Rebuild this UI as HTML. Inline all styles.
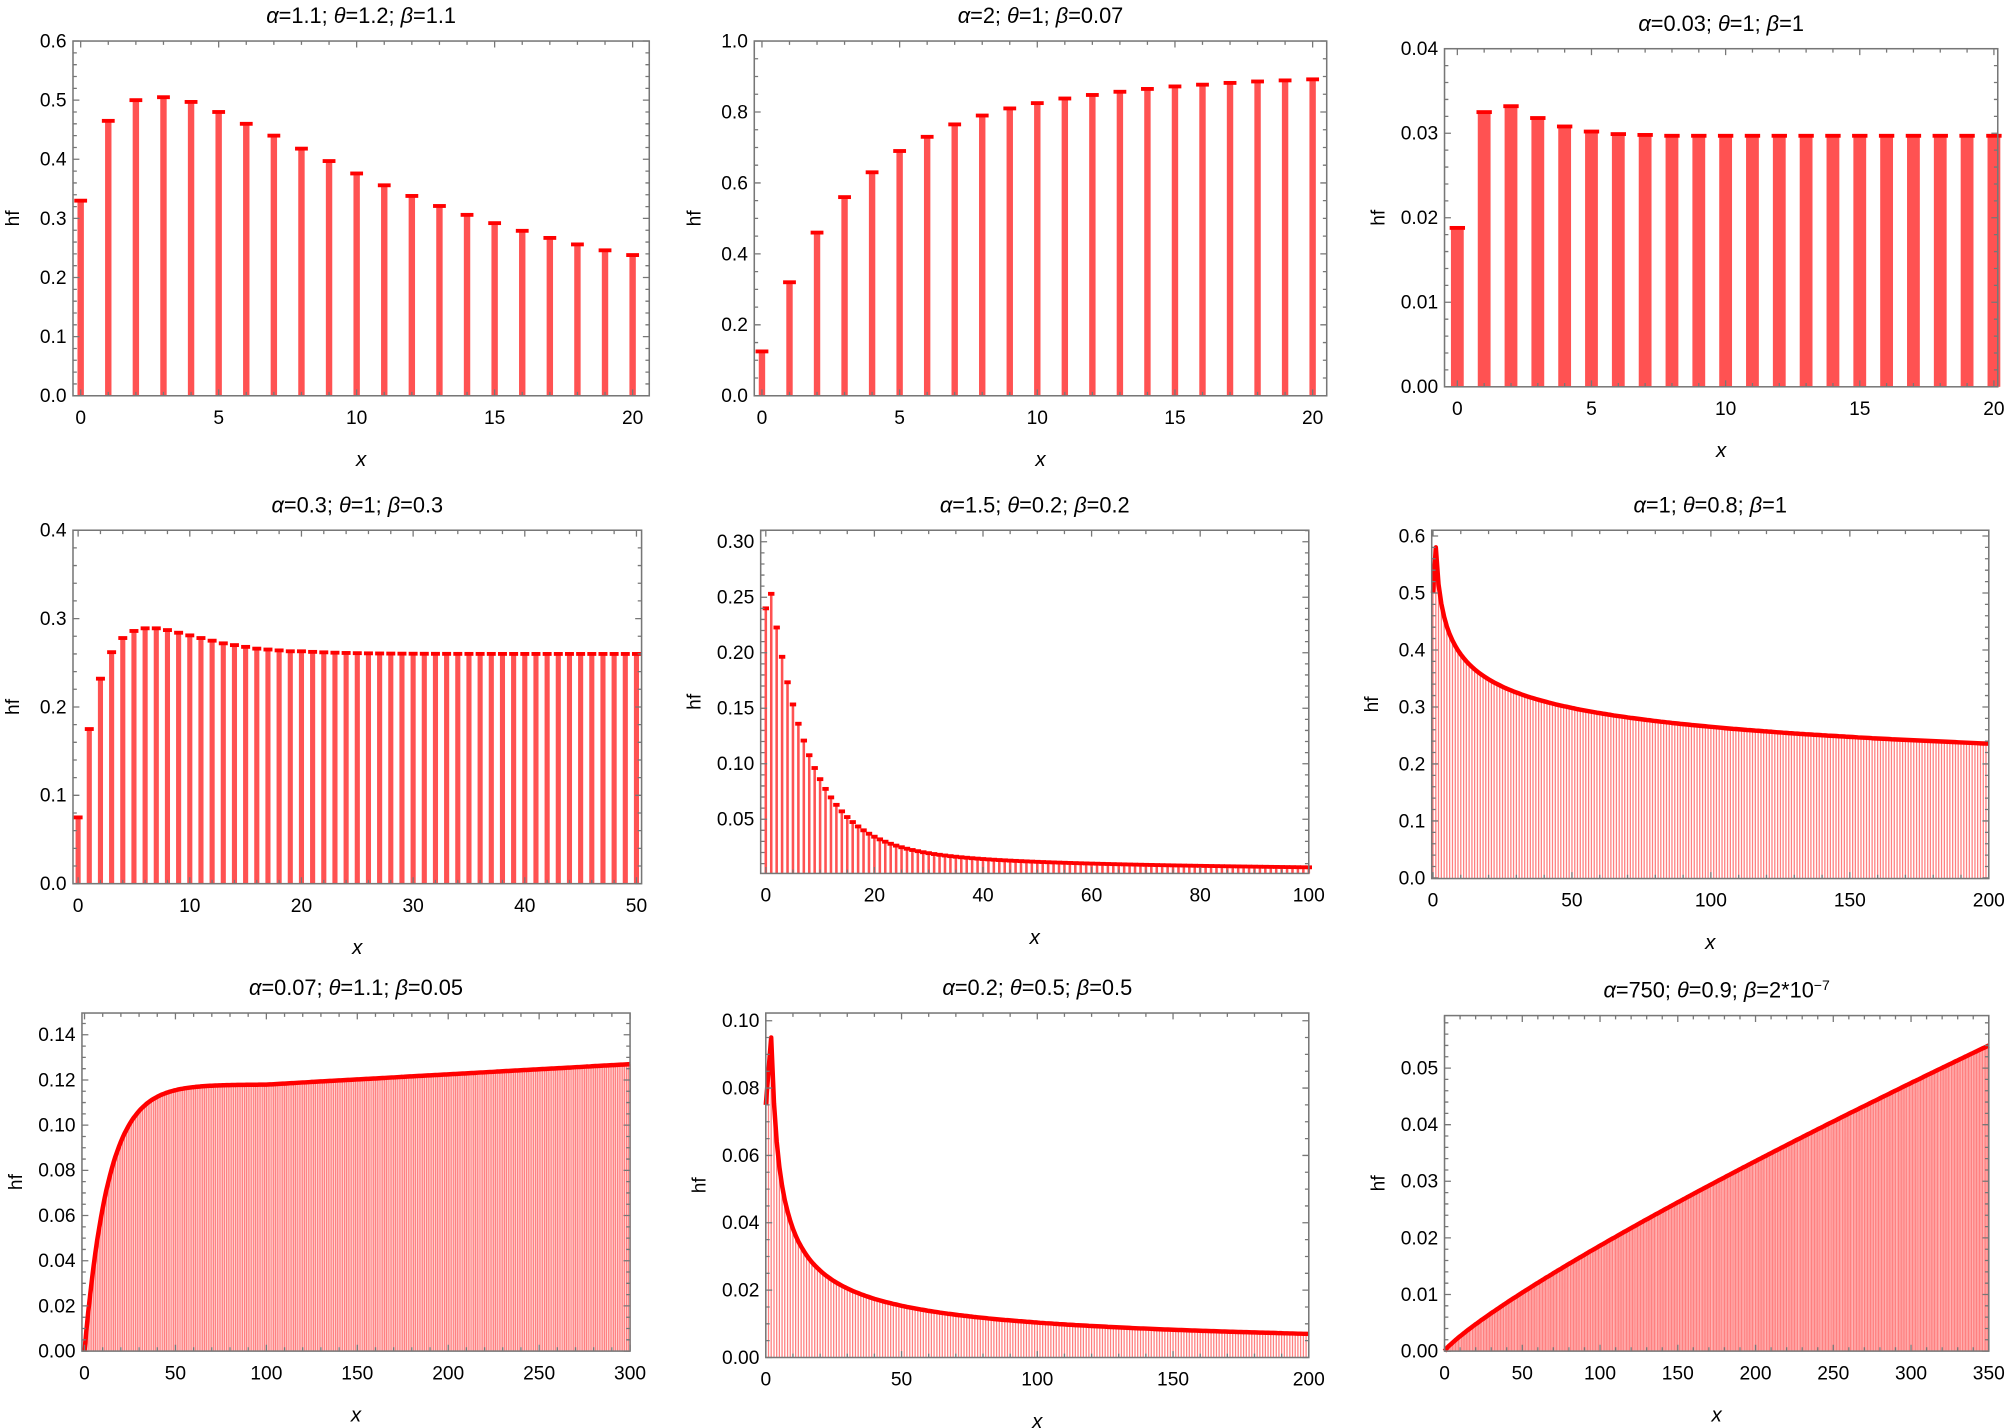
<!DOCTYPE html>
<html><head><meta charset="utf-8"><style>html,body{margin:0;padding:0;background:#fff}svg{display:block}</style></head>
<body>
<svg id="s" width="2008" height="1428" viewBox="0 0 1568 1115" xmlns="http://www.w3.org/2000/svg" font-family="Liberation Sans, DejaVu Sans, sans-serif"></svg>
<script>
const P=[
{t:'<tspan font-style="italic">α</tspan>=1.1; <tspan font-style="italic">θ</tspan>=1.2; <tspan font-style="italic">β</tspan>=1.1',fx:[57,507],fy:[32,309],x0:63,x1:494,xmin:0,xmax:20,y0:309,y1:32,ymin:0,ymax:0.6,xt:[0,5,10,15,20],xm:1,yt:[0,.1,.2,.3,.4,.5,.6],ym:0.02,yd:1,type:'bar',bw:5,cw:10,
 f:x=>[0.33,0.465,0.50,0.505,0.497,0.48,0.46,0.44,0.418,0.397,0.376,0.356,0.338,0.321,0.306,0.292,0.279,0.267,0.256,0.246,0.238][x],n:20,step:1},
{t:'<tspan font-style="italic">α</tspan>=2; <tspan font-style="italic">θ</tspan>=1; <tspan font-style="italic">β</tspan>=0.07',fx:[589,1036],fy:[32,309],x0:595,x1:1025,xmin:0,xmax:20,y0:309,y1:32,ymin:0,ymax:1,xt:[0,5,10,15,20],xm:1,yt:[0,.2,.4,.6,.8,1],ym:0.05,yd:1,type:'bar',bw:5,cw:10,
 f:x=>[0.125,0.32,0.46,0.56,0.63,0.69,0.73,0.765,0.79,0.81,0.825,0.838,0.848,0.857,0.865,0.872,0.877,0.882,0.886,0.889,0.892][x],n:20,step:1},
{t:'<tspan font-style="italic">α</tspan>=0.03; <tspan font-style="italic">θ</tspan>=1; <tspan font-style="italic">β</tspan>=1',fx:[1128,1560],fy:[38,302],x0:1138,x1:1557,xmin:0,xmax:20,y0:302,y1:38,ymin:0,ymax:0.04,xt:[0,5,10,15,20],xm:1,yt:[0,.01,.02,.03,.04],ym:0.002,yd:2,type:'bar',bw:10,cw:12,
 f:x=>[0.0188,0.0325,0.0332,0.0318,0.0308,0.0302,0.0299,0.0298,0.0297][Math.min(x,8)],n:20,step:1},
{t:'<tspan font-style="italic">α</tspan>=0.3; <tspan font-style="italic">θ</tspan>=1; <tspan font-style="italic">β</tspan>=0.3',fx:[57,501],fy:[414,690],x0:61,x1:497,xmin:0,xmax:50,y0:690,y1:414,ymin:0,ymax:0.4,xt:[0,10,20,30,40,50],xm:2,yt:[0,.1,.2,.3,.4],ym:0.02,yd:1,type:'bar',bw:4,cw:7,
 f:x=>{const a=[0.075,0.175,0.232,0.262,0.278,0.286,0.289,0.289,0.287,0.284,0.281,0.278,0.275,0.272,0.270,0.268,0.266,0.265,0.264,0.263];return x<20?a[x]:0.26+0.003*Math.exp(-(x-20)/4);},n:50,step:1},
{t:'<tspan font-style="italic">α</tspan>=1.5; <tspan font-style="italic">θ</tspan>=0.2; <tspan font-style="italic">β</tspan>=0.2',fx:[594,1022],fy:[414,682],x0:598,x1:1022,xmin:0,xmax:100,y0:683,y1:423,ymin:0,ymax:0.3,xt:[0,20,40,60,80,100],xm:5,yt:[.05,.1,.15,.2,.25,.3],ym:0.01,yd:2,type:'bar',bw:2,cw:5,
 f:x=>x==0?0.24:0.215*Math.exp(-(x-1)/7)+0.04/(1+x/20),n:100,step:1},
{t:'<tspan font-style="italic">α</tspan>=1; <tspan font-style="italic">θ</tspan>=0.8; <tspan font-style="italic">β</tspan>=1',fx:[1118,1553],fy:[414,686],x0:1119,x1:1553,xmin:0,xmax:200,y0:685.5,y1:418.5,ymin:0,ymax:0.6,xt:[0,50,100,150,200],xm:10,yt:[0,.1,.2,.3,.4,.5,.6],ym:0.02,yd:1,type:'curve',
 f:x=>x==0?0.5:0.58*Math.pow(x,-0.17),n:200,step:1},
{t:'<tspan font-style="italic">α</tspan>=0.07; <tspan font-style="italic">θ</tspan>=1.1; <tspan font-style="italic">β</tspan>=0.05',fx:[64,492],fy:[791,1055],x0:66,x1:492,xmin:0,xmax:300,y0:1055,y1:808,ymin:0,ymax:0.14,xt:[0,50,100,150,200,250,300],xm:10,yt:[0,.02,.04,.06,.08,.1,.12,.14],ym:0.005,yd:2,type:'curve',
 f:x=>0.118*(1-Math.exp(-x/13))+(x>100?0.000045*(x-100):0),n:300,step:1},
{t:'<tspan font-style="italic">α</tspan>=0.2; <tspan font-style="italic">θ</tspan>=0.5; <tspan font-style="italic">β</tspan>=0.5',fx:[598,1022],fy:[791,1060],x0:598,x1:1022,xmin:0,xmax:200,y0:1060,y1:797,ymin:0,ymax:0.1,xt:[0,50,100,150,200],xm:10,yt:[0,.02,.04,.06,.08,.1],ym:0.005,yd:2,type:'curve',
 f:x=>x==0?0.075:x==1?0.085:0.095*Math.pow(x/2,-0.566),n:200,step:1},
{t:'<tspan font-style="italic">α</tspan>=750; <tspan font-style="italic">θ</tspan>=0.9; <tspan font-style="italic">β</tspan>=2*10<tspan dy="-6" font-size="11">−7</tspan>',fx:[1128,1553],fy:[793,1055],x0:1128,x1:1553,xmin:0,xmax:350,y0:1055,y1:834,ymin:0,ymax:0.05,xt:[0,50,100,150,200,250,300,350],xm:10,yt:[0,.01,.02,.03,.04,.05],ym:0.002,yd:2,type:'curve',
 f:x=>0.054*Math.pow(x/350,0.85),n:350,step:1}
];
let o='';
for(const p of P){
 const X=v=>p.x0+(v-p.xmin)/(p.xmax-p.xmin)*(p.x1-p.x0);
 const Y=v=>p.y0+(v-p.ymin)/(p.ymax-p.ymin)*(p.y1-p.y0);
 const [L,R]=p.fx,[T,B]=p.fy;
 if(p.type=='bar'){
  for(let i=0;i<=p.n;i++){const v=p.f(i),x=X(i),y=Y(v);
   o+=`<rect x="${x-p.bw/2}" y="${y}" width="${p.bw}" height="${B-y}" fill="#ff5252"/>`;
   o+=`<rect x="${x-p.cw/2}" y="${y-1.5}" width="${p.cw}" height="3" fill="#ff0000"/>`;}
 } else {
  let d='',pts=[];
  for(let i=0;i<=p.n;i++){const x=X(i),y=Y(p.f(i));d+=`M${x.toFixed(1)} ${B}V${y.toFixed(1)}`;pts.push(x.toFixed(1)+','+y.toFixed(1));}
  o+=`<path d="${d}" stroke="#ff8080" stroke-width="1" fill="none"/>`;
  o+=`<polyline points="${pts.join(' ')}" stroke="#ff0000" stroke-width="3.5" fill="none" stroke-linejoin="round"/>`;
 }
 o+=`<rect x="${L}" y="${T}" width="${R-L}" height="${B-T}" fill="none" stroke="#777" stroke-width="1.2"/>`;
 let tk='';
 for(let v=p.xmin;v<=p.xmax+1e-9;v+=p.xm){const x=X(v);if(x<L-0.5||x>R+0.5)continue;const maj=p.xt.some(t=>Math.abs(t-v)<1e-9);const l=maj?5:3;tk+=`M${x} ${B}v${-l}M${x} ${T}v${l}`;}
 for(let v=p.ymin;v<=p.ymax*1.2;v+=p.ym){const y=Y(v);if(y<T-0.5||y>B+0.5)continue;const maj=p.yt.some(t=>Math.abs(t-v)<1e-9);const l=maj?5:3;tk+=`M${L} ${y}h${l}M${R} ${y}h${-l}`;}
 o+=`<path d="${tk}" stroke="#777" stroke-width="1" fill="none"/>`;
 for(const t of p.xt)o+=`<text x="${X(t)}" y="${B+22}" font-size="15" text-anchor="middle">${t}</text>`;
 for(const t of p.yt)o+=`<text x="${L-5}" y="${Y(t)+5}" font-size="15" text-anchor="end">${t.toFixed(p.yd)}</text>`;
 const cx=(L+R)/2;
 o+=`<text x="${cx}" y="${T-14}" font-size="17" text-anchor="middle">${p.t}</text>`;
 o+=`<text x="${cx}" y="${B+55}" font-size="16" font-style="italic" text-anchor="middle">x</text>`;
 const hx=L-(p.yd==2?47:42);
 o+=`<text transform="translate(${hx},${(T+B)/2}) rotate(-90)" font-size="15" text-anchor="middle">hf</text>`;
}
document.getElementById('s').innerHTML=o;
</script>
</body></html>
